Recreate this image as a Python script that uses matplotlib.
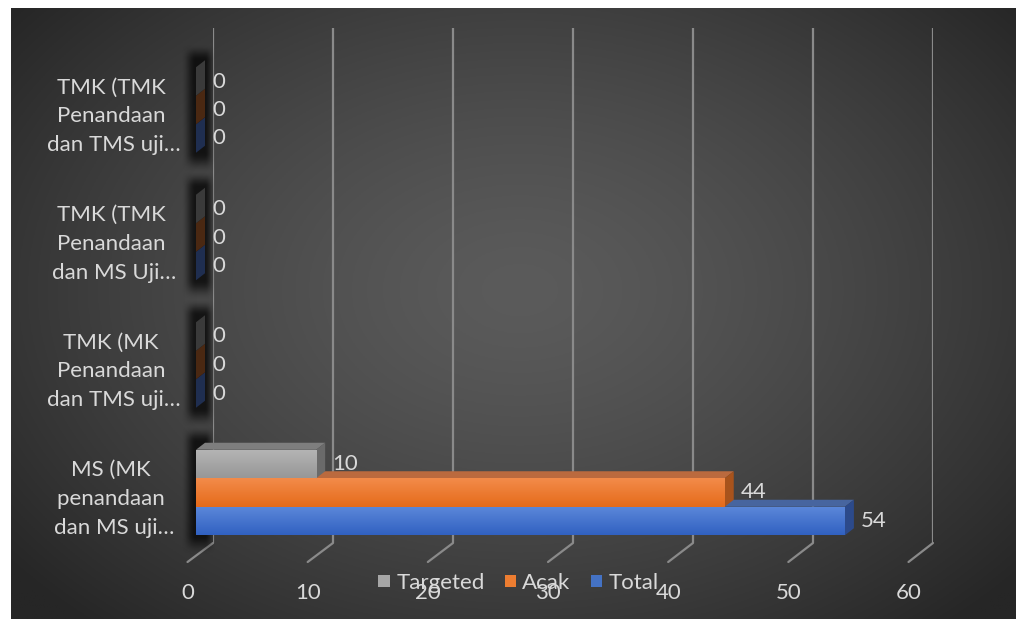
import numpy as np
import matplotlib
matplotlib.use("Agg")
import matplotlib.pyplot as plt
from matplotlib.patches import Polygon, Patch, ConnectionPatch

# ---------------- data ----------------
categories = [
    "MS (MK \npenandaan \ndan MS uji…",
    "TMK (MK \nPenandaan \ndan TMS uji…",
    "TMK (TMK \nPenandaan \ndan MS Uji…",
    "TMK (TMK \nPenandaan \ndan TMS uji…",
]
series_names = ["Targeted", "Acak", "Total"]
targeted = [10, 0, 0, 0]
acak = [44, 0, 0, 0]
total = [54, 0, 0, 0]
xticks = [0, 10, 20, 30, 40, 50, 60]

# ---------------- style ----------------
plt.rcParams['font.family'] = ['Lato', 'DejaVu Sans']
TXT = '#d9d9d9'
FS = 16
front_top = ['#b5b5b5', '#f38b4a', '#5c88da']
front_bot = ['#979797', '#e56b1a', '#3161c1']
top_col = ['#7e7e7e', '#bb6a3e', '#47659f']
side_col = ['#6a6a6a', '#a8531c', '#2c4a8b']
side_zero = ['#3a3a3a', '#4a2812', '#1f2e50']
legend_col = ['#a6a6a6', '#ed7d31', '#4472c4']

W, H = 1016, 619
fig = plt.figure(figsize=(W / 100, H / 100), dpi=100)
fig.patch.set_facecolor('white')


def px_rect(x0, y_top, x1, y_bot):
    return [x0 / W, 1 - y_bot / H, (x1 - x0) / W, (y_bot - y_top) / H]


# background with radial gradient (extends past the figure edge on right/bottom)
bg = fig.add_axes(px_rect(11, 8, W + 6, H + 6))
bg.set_axis_off()
bg.set_facecolor('#262626')
ny, nx = 300, 500
yy, xx = np.mgrid[0:ny, 0:nx]
pxx = 11 + xx / (nx - 1) * (W + 6 - 11)
pyy = 8 + yy / (ny - 1) * (H + 6 - 8)
r = np.sqrt(((pxx - 520) / 650) ** 2 + ((pyy - 290) / 450) ** 2)
r = np.clip(r, 0, 1) ** 1.4
c = (0x5b / 255) * (1 - r) + (0x26 / 255) * r
bg.imshow(np.dstack([c, c, c]), extent=[0, 1, 0, 1], aspect='auto', origin='upper')
bg.set_xlim(0, 1)
bg.set_ylim(0, 1)

# back wall with gridlines
back = fig.add_axes(px_rect(213, 28, 933, 543))
back.set_xlim(0, 60)
back.set_ylim(0, 1)
back.set_axis_off()
back.vlines(xticks, 0, 1, color='#8a8a8a', lw=1.6)

# floor front edge with tick labels
floor = fig.add_axes(px_rect(187.5, 561, 908.5, 562))
floor.set_xlim(0, 60)
floor.set_ylim(0, 1)
floor.patch.set_visible(False)
for s in floor.spines.values():
    s.set_visible(False)
floor.set_yticks([])
floor.set_xticks(xticks)
floor.set_xticklabels([str(t) for t in xticks])
floor.tick_params(axis='x', length=0, pad=15, labelsize=FS, labelcolor=TXT)

for v in xticks:
    con = ConnectionPatch(xyA=(v, 0), coordsA=back.transData,
                          xyB=(v, 0), coordsB=floor.transData,
                          arrowstyle='-', color='#8a8a8a', lw=1.6)
    back.add_artist(con)

# main bar plane
ax = fig.add_axes(px_rect(196, 46.25, 917, 556.25))
ax.patch.set_visible(False)
for s in ax.spines.values():
    s.set_visible(False)
ax.set_xlim(0, 60)
ax.set_ylim(-0.5, 3.5)
ax.set_xticks([])
ax.set_yticks(range(len(categories)))
ax.set_yticklabels(categories)
for lbl in ax.get_yticklabels():
    lbl.set_ha('center')
    lbl.set_multialignment('center')
    lbl.set_linespacing(1.56)
ax.tick_params(axis='y', length=0, pad=59, labelsize=FS, labelcolor=TXT)

sx = 60 / 721.0   # data units per pixel (x)
sy = 4 / 510.0    # data units per pixel (y)
h = 28.5 * sy
ddx = 9 * sx
ddy = 7 * sy
offsets = [h, 0, -h]
values = [targeted, acak, total]


def smooth(t):
    t = np.clip(t, 0, 1)
    return t * t * (3 - 2 * t)


# soft shadows behind each bar group
fl, fr, fu, fd = 15, 11, 16, 20   # feather in pixels
for j in range(len(categories)):
    gy0 = j - 1.5 * h
    gy1 = j + 1.5 * h + ddy
    x0, x1 = -fl * sx, ddx + fr * sx
    y0, y1 = gy0 - fd * sy, gy1 + fu * sy
    nxs, nys = 60, 160
    xs = np.linspace(x0, x1, nxs)
    ys = np.linspace(y1, y0, nys)
    fx = np.minimum(smooth((xs - x0) / (fl * sx)), smooth((x1 - xs) / (fr * sx)))
    fy = np.minimum(smooth((ys - y0) / (fd * sy)), smooth((y1 - ys) / (fu * sy)))
    a = 0.72 * fy[:, None] * fx[None, :]
    rgba = np.zeros((nys, nxs, 4))
    rgba[..., 3] = a
    ax.imshow(rgba, extent=[x0, x1, y0, y1], aspect='auto', origin='upper',
              zorder=1, clip_on=False, interpolation='bilinear')

grad = np.linspace(0, 1, 64)[:, None]
for si in [2, 1, 0]:
    z = 3 + (2 - si) * 2
    for j, v in enumerate(values[si]):
        y = j + offsets[si]
        # top face
        ax.add_patch(Polygon([(0, y + h / 2), (v, y + h / 2),
                              (v + ddx, y + h / 2 + ddy), (ddx, y + h / 2 + ddy)],
                             closed=True, facecolor=top_col[si], edgecolor='none',
                             zorder=z, clip_on=False))
        # side face
        sc = side_zero[si] if v == 0 else side_col[si]
        ax.add_patch(Polygon([(v, y - h / 2), (v, y + h / 2),
                              (v + ddx, y + h / 2 + ddy), (v + ddx, y - h / 2 + ddy)],
                             closed=True, facecolor=sc, edgecolor='none',
                             zorder=z, clip_on=False))
        # front face
        if v > 0:
            bars = ax.barh(y, v, height=h, color=front_bot[si], zorder=z + 0.5)
            c0 = np.array(matplotlib.colors.to_rgb(front_top[si]))
            c1 = np.array(matplotlib.colors.to_rgb(front_bot[si]))
            g = c0[None, None, :] * (1 - grad[:, :, None]) + c1[None, None, :] * grad[:, :, None]
            im = ax.imshow(g, extent=[0, v, y - h / 2, y + h / 2], aspect='auto',
                           origin='upper', zorder=z + 0.6)
            im.set_clip_path(bars.patches[0])
        # data label
        ax.annotate(str(v), (v, y), xytext=(16 * 0.72, 0), textcoords='offset points',
                    ha='left', va='center', color=TXT, fontsize=FS, zorder=20)

ax.set_xlim(0, 60)
ax.set_ylim(-0.5, 3.5)

handles = [Patch(facecolor=legend_col[i], edgecolor='none') for i in range(3)]
fig.legend(handles, series_names, loc='center', bbox_to_anchor=(518.5 / W, 1 - 583 / H),
           ncol=3, frameon=False, fontsize=FS, labelcolor=TXT,
           handlelength=0.5, handleheight=0.5, handletextpad=0.3, columnspacing=0.9)

fig.savefig('out.png', dpi=100, facecolor=fig.get_facecolor())
